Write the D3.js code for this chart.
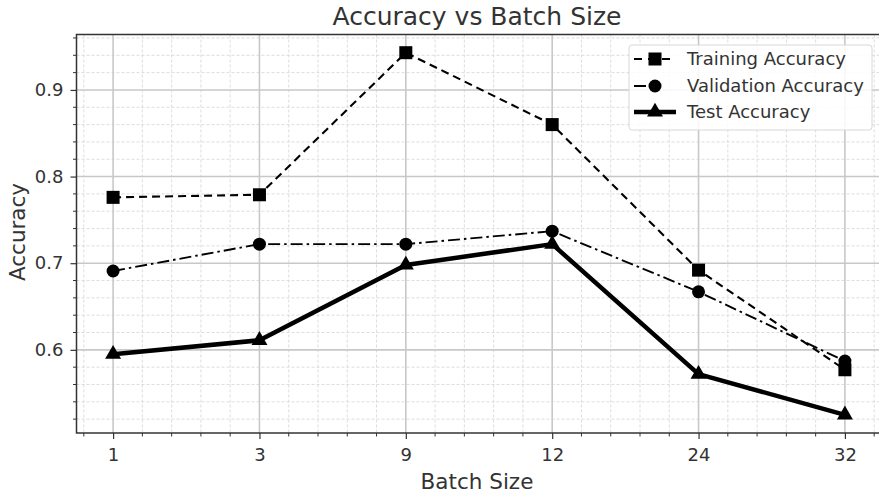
<!DOCTYPE html>
<html><head><meta charset="utf-8">
<script src="https://cdn.jsdelivr.net/npm/d3@7"></script>
<style>body{margin:0;background:#fff}svg{display:block}text{font-family:"DejaVu Sans",sans-serif}</style>
</head><body><svg id="c" width="879" height="496"></svg>
<script>
const categories = ["1","3","9","12","24","32"];
const training = [0.776, 0.779, 0.943, 0.860, 0.692, 0.577];
const validation = [0.691, 0.722, 0.722, 0.737, 0.667, 0.587];
const test = [0.595, 0.611, 0.698, 0.722, 0.572, 0.525];
const yTicks = [0.6, 0.7, 0.8, 0.9];
const seriesNames = ["Training Accuracy","Validation Accuracy","Test Accuracy"];

const svg = d3.select("#c");
const L=76.5, R=881.5, T=34.5, B=433;
const x = d3.scaleLinear().domain([-0.25, 5.25]).range([L, R]);
const y = d3.scaleLinear().domain([0.504, 0.964]).range([B, T]);
const g = svg.append("g");

// minor grid
const xMinor = d3.range(-0.2, 5.25, 0.2).filter(v => Math.abs(v - Math.round(v)) > 1e-6);
const yMinor = d3.range(0.52, 0.964, 0.02).filter(v => Math.abs(v*10 - Math.round(v*10)) > 1e-6);
g.selectAll(".xm").data(xMinor).join("line").attr("x1",d=>x(d)).attr("x2",d=>x(d)).attr("y1",T).attr("y2",B)
 .attr("stroke","#d4d4d4").attr("stroke-width",0.8).attr("stroke-dasharray","3,2");
g.selectAll(".ym").data(yMinor).join("line").attr("y1",d=>y(d)).attr("y2",d=>y(d)).attr("x1",L).attr("x2",R)
 .attr("stroke","#d4d4d4").attr("stroke-width",0.8).attr("stroke-dasharray","3,2");
// major grid
g.selectAll(".xM").data(categories.map((c,i)=>i)).join("line").attr("x1",d=>x(d)).attr("x2",d=>x(d)).attr("y1",T).attr("y2",B)
 .attr("stroke","#c8c8c8").attr("stroke-width",1.6);
g.selectAll(".yM").data(yTicks).join("line").attr("y1",d=>y(d)).attr("y2",d=>y(d)).attr("x1",L).attr("x2",R)
 .attr("stroke","#c8c8c8").attr("stroke-width",1.6);

// axes
const xAxis = d3.axisBottom(x).tickValues(categories.map((c,i)=>i)).tickFormat(i=>categories[i]).tickSize(6).tickPadding(9);
const xa = svg.append("g").attr("transform",`translate(0,${B})`).call(xAxis);
const yAxis = d3.axisLeft(y).tickValues(yTicks).tickFormat(d3.format(".1f")).tickSize(6).tickPadding(7);
const ya = svg.append("g").attr("transform",`translate(${L},0)`).call(yAxis);
[xa,ya].forEach(a=>{a.select(".domain").remove();a.selectAll("line").attr("stroke","#333").attr("stroke-width",1.2);
 a.selectAll("text").attr("fill","#333").style("font-size","18px").style("font-family","DejaVu Sans");});
// minor ticks
svg.append("g").selectAll("line").data(xMinor).join("line").attr("x1",d=>x(d)).attr("x2",d=>x(d)).attr("y1",B).attr("y2",B+3.5).attr("stroke","#333").attr("stroke-width",1);
svg.append("g").selectAll("line").data(yMinor).join("line").attr("y1",d=>y(d)).attr("y2",d=>y(d)).attr("x1",L).attr("x2",L-3.5).attr("stroke","#333").attr("stroke-width",1);
// spines
svg.append("rect").attr("x",L).attr("y",T).attr("width",R-L).attr("height",B-T).attr("fill","none").attr("stroke","#333").attr("stroke-width",1.5);

const line = d3.line().x((d,i)=>x(i)).y(d=>y(d));
const styles = [
 {data:training, dash:"8,5", w:2.1, marker:"square"},
 {data:validation, dash:"12,4,2.5,4", w:1.9, marker:"circle"},
 {data:test, dash:null, w:4.5, marker:"triangle"}
];
function marker(sel, type){
 if(type==="square") sel.append("rect").attr("x",-6.5).attr("y",-6.5).attr("width",13).attr("height",13).attr("fill","#000");
 else if(type==="circle") sel.append("circle").attr("r",6.5).attr("fill","#000");
 else sel.append("path").attr("d",d3.symbol(d3.symbolTriangle,110)()).attr("fill","#000");
}
styles.forEach(s=>{
 const p = svg.append("path").datum(s.data).attr("d",line).attr("fill","none").attr("stroke","#000").attr("stroke-width",s.w).attr("stroke-linejoin","round");
 if(s.dash) p.attr("stroke-dasharray",s.dash);
 s.data.forEach((v,i)=>{ marker(svg.append("g").attr("transform",`translate(${x(i)},${y(v)})`), s.marker); });
});

// legend
const lg = svg.append("g");
lg.append("rect").attr("x",629).attr("y",45).attr("width",243).attr("height",85).attr("rx",3)
 .attr("fill","#fff").attr("fill-opacity",0.85).attr("stroke","#d8d8d8").attr("stroke-width",1);
const ly = [59, 86, 112];
styles.forEach((s,i)=>{
 const l = lg.append("line").attr("x1",634).attr("x2",676).attr("y1",ly[i]).attr("y2",ly[i]).attr("stroke","#000").attr("stroke-width",s.w);
 if(i===0) l.attr("stroke-dasharray","8,6");
 if(i===1) l.attr("stroke-dasharray","12,6,3,30");
 marker(lg.append("g").attr("transform",`translate(655,${ly[i]})`), s.marker);
 lg.append("text").attr("x",687).attr("y",ly[i]).attr("dy","0.35em").text(seriesNames[i]).attr("fill","#333").style("font-size","18px");
});

// titles
svg.append("text").attr("x",(L+R)/2-2).attr("y",25).attr("text-anchor","middle").attr("fill","#333").style("font-size","25px").text("Accuracy vs Batch Size");
svg.append("text").attr("x",(L+R)/2-2).attr("y",489).attr("text-anchor","middle").attr("fill","#333").style("font-size","21.5px").text("Batch Size");
svg.append("text").attr("transform",`translate(25,232) rotate(-90)`).attr("text-anchor","middle").attr("fill","#333").style("font-size","21.5px").text("Accuracy");
</script></body></html>
